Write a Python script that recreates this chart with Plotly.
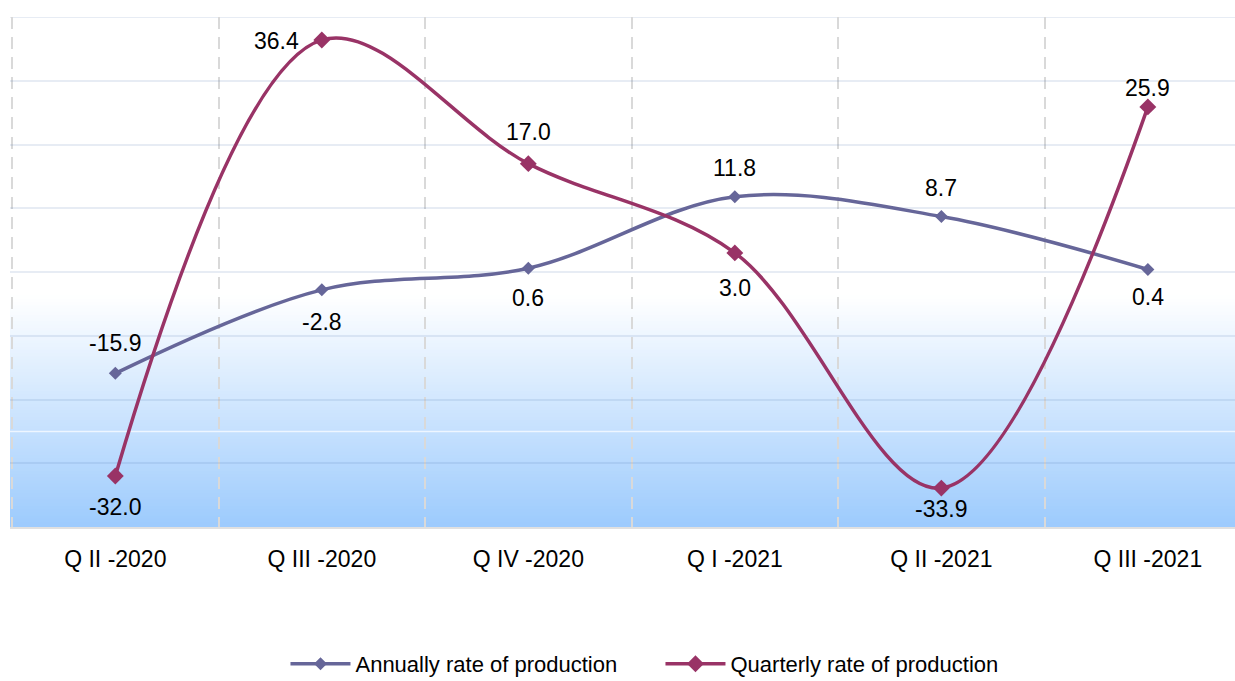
import plotly.graph_objects as go

categories = ["Q II -2020", "Q III -2020", "Q IV -2020", "Q I -2021", "Q II -2021", "Q III -2021"]
annual = [-15.9, -2.8, 0.6, 11.8, 8.7, 0.4]
quarterly = [-32.0, 36.4, 17.0, 3.0, -33.9, 25.9]

# label offsets in px (style)
annual_off = [(0, 30), (0, -32), (0, -30), (0, 29), (0, 29), (0, -28)]
quarterly_off = [(0, -31), (-45, -1), (0, 32), (0, -35), (0, -21), (0, 19)]

ANN_C = "#666699"
QUA_C = "#993366"
FONT = "Liberation Sans, Arial, sans-serif"
GRID = "rgba(70,110,170,0.13)"

fig = go.Figure()
fig.add_trace(go.Scatter(
    x=categories, y=annual, mode="lines+markers", name="Annually rate of production",
    line=dict(color=ANN_C, width=3.5, shape="spline", smoothing=1),
    marker=dict(symbol="diamond", size=10, color=ANN_C),
))
fig.add_trace(go.Scatter(
    x=categories, y=quarterly, mode="lines+markers", name="Quarterly rate of production",
    line=dict(color=QUA_C, width=3.5, shape="spline", smoothing=1),
    marker=dict(symbol="diamond", size=13, color=QUA_C),
))

annotations = []
for vals, offs in ((annual, annual_off), (quarterly, quarterly_off)):
    for c, v, (dx, dy) in zip(categories, vals, offs):
        annotations.append(dict(x=c, y=v, text=f"{v:.1f}", showarrow=False,
                                xshift=dx, yshift=dy,
                                font=dict(family=FONT, size=23, color="#000000")))

# background gradient (below gridlines)
shapes = []
top, bottom = -4.0, -40.0
n = 72
c0 = (255, 255, 255)
c1 = (157, 203, 253)
step = (bottom - top) / n
for i in range(n):
    y0 = top + step * i
    y1 = top + step * (i + 1)
    t = (i + 0.5) / n
    col = tuple(round(c0[k] + (c1[k] - c0[k]) * t) for k in range(3))
    shapes.append(dict(type="rect", xref="paper", yref="y", x0=0, x1=1,
                       y0=y0 + 0.3, y1=y1,
                       fillcolor=f"rgb{col}", line=dict(width=0), layer="below"))
shapes.append(dict(type="line", xref="paper", yref="y", x0=0, x1=1, y0=-25, y1=-25,
                   line=dict(color="rgba(255,255,255,0.7)", width=1.5), layer="below"))
shapes.append(dict(type="line", xref="paper", yref="y", x0=0, x1=1, y0=40, y1=40,
                   line=dict(color=GRID, width=2), layer="below"))

fig.update_layout(
    width=1235, height=681,
    margin=dict(l=10, r=0, t=17, b=154),
    paper_bgcolor="white", plot_bgcolor="rgba(0,0,0,0)",
    font=dict(family=FONT, size=22, color="#000000"),
    showlegend=True,
    legend=dict(orientation="h", x=0.531, xanchor="center",
                yref="container", y=0.025, yanchor="middle",
                font=dict(family=FONT, size=22), entrywidth=300, itemwidth=60,
                bgcolor="rgba(0,0,0,0)"),
    annotations=annotations,
    shapes=shapes,
)
fig.update_xaxes(type="category", range=[-0.51, 5.422], tickson="boundaries",
                 showgrid=True, gridcolor="#d9d9d9", gridwidth=2, griddash="12px,8px",
                 ticks="", showline=True, linecolor="#e0e0e0", linewidth=2,
                 tickfont=dict(family=FONT, size=23), ticklabelstandoff=10)
fig.update_yaxes(range=[-40, 40], dtick=10, showticklabels=False,
                 showgrid=True, gridcolor=GRID, gridwidth=2,
                 zeroline=True, zerolinecolor=GRID, zerolinewidth=2)

fig.write_html("out.html", config={"displayModeBar": False},
               post_script="document.body.style.margin='0';document.body.style.overflow='hidden';")
